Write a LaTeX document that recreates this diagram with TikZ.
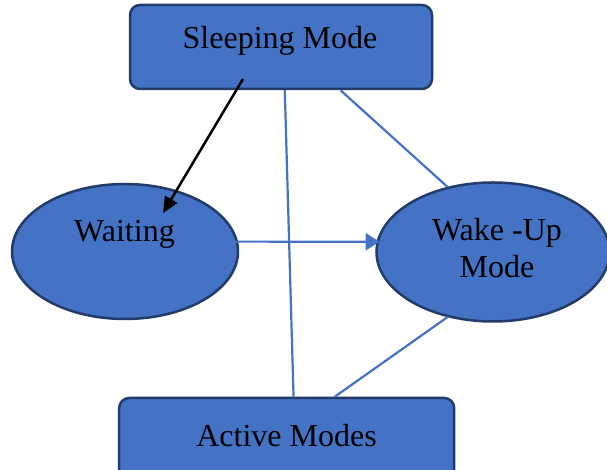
\documentclass[tikz,border=0pt]{standalone}
\usepackage{fontspec}
\setmainfont{Liberation Serif}
\usetikzlibrary{positioning,shapes.geometric,arrows.meta}
\definecolor{modefill}{HTML}{4472C4}
\definecolor{modeline}{HTML}{233B68}

\begin{document}
\begin{tikzpicture}[x=0.5pt, y=-0.5pt, on grid,
    mode_box/.style = {draw=modeline, fill=modefill, line width=1.25pt, rounded corners=5pt, inner sep=0pt, minimum height=42pt},
    mode_oval/.style = {ellipse, draw=modeline, fill=modefill, line width=1.25pt, inner sep=0pt},
    mode_text/.style = {font=\fontsize{16}{18.5}\selectfont, inner sep=0pt, align=center},
    link/.style = {draw=modefill, line width=1.1pt},
    link_arrow/.style = {link, -{Triangle[length=7pt, width=8.5pt]}},
    sleep_arrow/.style = {draw=black, line width=1.25pt, -{Triangle[length=8pt, width=7pt]}}]
        \useasboundingbox (0,0) rectangle (607,470) ; %
        \node[mode_box, minimum width=151pt] (sleep) at (281,47) {} ; %
        \node[mode_oval, minimum width=113pt, minimum height=67.5pt, below left = 102.25pt and 78pt of sleep] (wait) {} ; %
        \node[mode_oval, minimum width=116.5pt, minimum height=69.5pt, below right = 102.5pt and 106pt of sleep] (wake) {} ; %
        \node[mode_box, minimum width=167.5pt, below right = 196.5pt and 2.85pt of sleep] (active) {} ; %
        %
        \node[mode_text] (sleep_label) at ([shift={(-1,-6)}]sleep.center) {Sleeping Mode} ; %
        \node[mode_text] (wait_label) at ([shift={(-0.5,-16.8)}]wait.center) {Waiting} ; %
        \node[mode_text] (wake_label) at ([shift={(4,-3.8)}]wake.center) {Wake -Up\\Mode} ; %
        \node[mode_text] (active_label) at ([shift={(-0.2,-4.5)}]active.center) {Active Modes} ; %
        %
        \coordinate (sleep_out) at ([shift={(-38,32)}]sleep.center) ; %
        \coordinate (wait_in) at ([shift={(38,-38.5)}]wait.center) ; %
        %
        \draw[sleep_arrow] (sleep_out) -- (wait_in) ; %
        \draw[link] (sleep.-85.5) -- (active.81.8) ; %
        \draw[link] (sleep.-36.4) -- (wake.125.6) ; %
        \draw[link_arrow, shorten <=-2pt, shorten >=-1.6pt] (wait.5) -- (wake.175.6) ; %
        \draw[link] (wake.235.7) -- (active.42.2) ; %
\end{tikzpicture}
\end{document}
